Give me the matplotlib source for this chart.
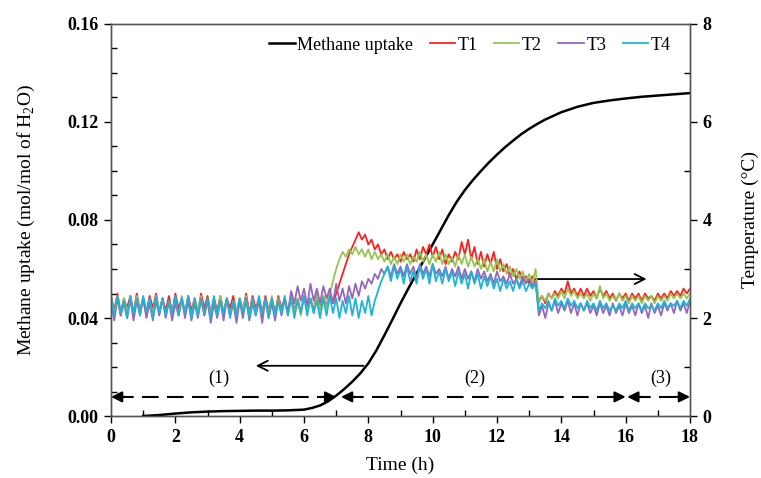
import numpy as np
import matplotlib
matplotlib.use("Agg")
import matplotlib.pyplot as plt
from matplotlib.ticker import MultipleLocator, FormatStrFormatter

plt.rcParams['font.family'] = ['Liberation Serif', 'DejaVu Serif']
plt.rcParams['mathtext.fontset'] = 'custom'
plt.rcParams['mathtext.rm'] = 'Liberation Serif'

# ---------------- data ----------------
uptake_time = [1.0, 1.5, 2.0, 2.5, 3.0, 3.5, 4.0, 4.5, 5.0, 5.5, 6.0, 6.25, 6.5, 6.75,
               7.0, 7.25, 7.5, 7.75, 8.0, 8.25, 8.5, 8.75, 9.0, 9.25, 9.5, 9.75,
               10.0, 10.25, 10.5, 10.75, 11.0, 11.25, 11.5, 11.75, 12.0, 12.25, 12.5,
               12.75, 13.0, 13.25, 13.5, 14.0, 14.5, 15.0, 15.5, 16.0, 16.5, 17.0,
               17.5, 18.0]
uptake = [0.0, 0.0004, 0.0010, 0.0015, 0.0018, 0.0020, 0.0021, 0.0022, 0.0022, 0.0023,
          0.0026, 0.0033, 0.0043, 0.0060, 0.0083, 0.0110, 0.0140, 0.0174, 0.0215,
          0.0268, 0.0330, 0.0394, 0.0460, 0.0522, 0.0582, 0.0642, 0.0700, 0.0760,
          0.0820, 0.0875, 0.0922, 0.0963, 0.1000, 0.1035, 0.1067, 0.1097, 0.1124,
          0.1150, 0.1172, 0.1192, 0.1210, 0.1240, 0.1262, 0.1278, 0.1288, 0.1296,
          0.1303, 0.1308, 0.1313, 0.1318]

# temperatures (deg C), sampled every 0.1 h from 0 h
T1 = [2.45,2.15,2.5,2.1,2.4,2.2,2.45,2.1,2.5,2.15,
      2.4,2.1,2.45,2.2,2.5,2.1,2.4,2.15,2.45,2.1,
      2.5,2.2,2.4,2.1,2.45,2.15,2.4,2.1,2.5,2.2,
      2.45,2.1,2.4,2.15,2.45,2.1,2.4,2.2,2.45,2.1,
      2.4,2.15,2.5,2.1,2.45,2.2,2.4,2.1,2.45,2.15,
      2.4,2.1,2.45,2.2,2.4,2.1,2.5,2.15,2.4,2.1,
      2.45,2.2,2.4,2.15,2.5,2.2,2.45,2.25,2.5,2.3,
      2.5,2.7,2.9,3.1,3.3,3.45,3.6,3.75,3.6,3.7,
      3.5,3.6,3.4,3.5,3.3,3.4,3.2,3.35,3.2,3.3,
      3.15,3.35,3.2,3.3,3.15,3.4,3.2,3.45,3.3,3.5,
      3.25,3.45,3.2,3.4,3.1,3.3,3.15,3.35,3.2,3.55,
      3.3,3.6,3.2,3.45,3.1,3.35,3.05,3.3,3.1,3.35,
      3.0,3.2,2.95,3.1,2.85,3.0,2.8,2.95,2.75,2.85,
      2.7,2.85,2.7,
      2.35,2.45,2.3,2.5,2.4,2.55,2.45,2.6,2.5,2.75,
      2.5,2.6,2.45,2.6,2.45,2.6,2.45,2.55,2.4,2.6,
      2.45,2.55,2.4,2.5,2.35,2.5,2.4,2.5,2.35,2.5,
      2.4,2.5,2.35,2.5,2.4,2.45,2.35,2.5,2.4,2.5,
      2.4,2.55,2.45,2.55,2.45,2.6,2.5,2.6]
T2 = [2.40,2.10,2.45,2.05,2.40,2.15,2.35,2.05,2.45,2.10,
      2.40,2.05,2.35,2.10,2.45,2.15,2.40,2.05,2.35,2.10,
      2.40,2.05,2.45,2.10,2.35,2.05,2.40,2.15,2.45,2.05,
      2.35,2.10,2.40,2.05,2.45,2.10,2.40,2.05,2.35,2.10,
      2.40,2.15,2.45,2.05,2.40,2.10,2.35,2.05,2.40,2.10,
      2.45,2.05,2.40,2.15,2.35,2.05,2.45,2.10,2.40,2.05,
      2.45,2.15,2.40,2.10,2.50,2.15,2.45,2.20,
      2.5,2.75,3.0,3.2,3.35,3.25,3.4,3.3,3.45,3.3,
      3.4,3.25,3.4,3.2,3.35,3.2,3.3,3.15,3.3,3.1,
      3.25,3.1,3.3,3.15,3.3,3.1,3.25,3.15,3.35,3.15,
      3.3,3.1,3.3,3.15,3.35,3.1,3.3,3.1,3.25,3.05,
      3.3,3.1,3.3,3.05,3.25,3.05,3.2,3.0,3.2,2.95,
      3.15,2.95,3.2,2.95,3.1,2.9,3.05,2.85,3.0,2.8,
      2.95,2.75,2.9,2.7,3.0,
      2.3,2.45,2.35,2.5,2.4,2.5,2.4,2.55,2.4,2.6,
      2.45,2.55,2.4,2.5,2.4,2.5,2.35,2.5,2.4,2.65,
      2.4,2.5,2.35,2.45,2.35,2.5,2.35,2.45,2.3,2.45,
      2.35,2.45,2.3,2.45,2.35,2.45,2.3,2.45,2.35,2.45,
      2.35,2.5,2.4,2.5,2.4,2.5,2.4,2.5]
T3 = [2.35,1.95,2.40,2.05,2.30,2.00,2.40,1.95,2.35,2.05,
      2.40,2.00,2.30,1.95,2.35,2.05,2.40,2.00,2.35,1.95,
      2.30,2.05,2.40,2.00,2.35,1.95,2.30,2.00,2.40,2.05,
      2.35,1.90,2.30,2.00,2.35,1.95,2.40,2.05,2.30,1.90,
      2.35,2.00,2.40,1.95,2.30,2.05,2.35,1.90,2.40,2.00,
      2.30,1.95,2.35,2.05,2.40,2.10,
      2.55,2.3,2.65,2.35,2.6,2.25,2.7,2.35,2.6,2.3,
      2.65,2.4,2.6,2.3,2.7,2.35,2.6,2.3,2.65,2.4,
      2.7,2.45,2.75,
      2.6,2.8,2.7,2.9,2.8,3.0,2.9,
      3.05,2.85,3.1,2.9,3.05,2.85,3.1,2.9,3.05,2.8,
      3.1,2.9,3.05,2.85,3.1,2.9,3.0,2.85,3.05,2.8,
      3.0,2.85,3.05,2.8,3.0,2.8,2.95,2.75,3.0,2.8,
      2.95,2.75,2.9,2.7,2.95,2.75,2.85,2.7,2.9,2.7,
      2.8,2.65,2.85,2.7,2.8,2.65,2.75,
      2.05,2.25,2.0,2.3,2.15,2.35,2.1,2.3,2.15,2.35,
      2.1,2.3,2.05,2.3,2.15,2.3,2.1,2.25,2.05,2.3,
      2.1,2.25,2.05,2.3,2.1,2.25,2.05,2.3,2.1,2.25,
      2.05,2.3,2.1,2.25,2.0,2.3,2.1,2.25,2.05,2.3,
      2.15,2.3,2.1,2.35,2.15,2.3,2.1,2.35]
T4 = [2.40,2.05,2.45,2.10,2.35,2.00,2.45,2.10,2.40,2.05,
      2.45,2.15,2.40,2.00,2.45,2.10,2.40,2.05,2.35,2.10,
      2.45,2.05,2.40,2.10,2.45,2.00,2.40,2.05,2.35,2.10,
      2.40,2.00,2.45,2.05,2.35,2.10,2.40,2.00,2.35,2.05,
      2.40,2.10,2.35,2.00,2.40,2.05,2.45,2.10,2.35,2.00,
      2.40,2.05,2.35,2.10,2.45,2.05,2.40,2.00,2.35,2.10,
      2.45,2.05,2.40,2.10,2.35,2.00,2.40,2.05,2.45,2.10,
      2.40,2.00,2.35,2.10,2.45,2.05,2.40,2.00,2.35,2.10,
      2.45,2.05,
      2.35,2.55,2.75,2.9,3.05,
      2.75,3.05,2.8,3.0,2.7,3.05,2.75,2.95,2.7,3.05,
      2.8,3.0,2.7,3.1,2.75,2.95,2.7,3.0,2.75,2.95,
      2.65,2.95,2.7,2.9,2.6,2.95,2.7,2.9,2.6,2.85,
      2.65,2.85,2.6,2.8,2.55,2.8,2.6,2.75,2.55,2.8,
      2.6,2.75,2.55,2.7,2.6,2.7,
      2.15,2.3,2.2,2.35,2.15,2.4,2.25,2.35,2.2,2.4,
      2.25,2.35,2.2,2.3,2.15,2.35,2.2,2.3,2.15,2.35,
      2.2,2.3,2.15,2.25,2.15,2.3,2.2,2.35,2.15,2.3,
      2.2,2.3,2.15,2.3,2.2,2.25,2.15,2.3,2.2,2.35,
      2.2,2.3,2.25,2.35,2.2,2.35,2.25,2.4]

temp_series = [("T1", T1, "#ff1f1f"), ("T2", T2, "#92c84e"),
               ("T3", T3, "#9467bd"), ("T4", T4, "#1fb4d6")]

# stage boundaries (h)
stages = [(0.0, 7.0, "(1)"), (7.15, 16.0, "(2)"), (16.05, 18.0, "(3)")]
stage_label_x = [3.35, 11.3, 17.1]

# ---------------- figure ----------------
fig = plt.figure(figsize=(7.61, 4.78), dpi=100)
ax = fig.add_axes([0.1459, 0.1297, 0.7608, 0.8201])
ax2 = ax.twinx()

ax.plot(uptake_time, uptake, color="black", lw=1.8, zorder=3)

handles = []
h0, = ax2.plot([], [], color="black", lw=1.8, label="Methane uptake")
handles.append(h0)
for name, vals, col in temp_series:
    t = np.arange(len(vals)) * 0.1
    h, = ax2.plot(t, vals, color=col, lw=1.3, label=name)
    handles.append(h)

ax.set_xlim(0, 18)
ax.set_ylim(0, 0.16)
ax2.set_ylim(0, 8)

ax.xaxis.set_major_locator(MultipleLocator(2))
ax.xaxis.set_minor_locator(MultipleLocator(1))
ax.yaxis.set_major_locator(MultipleLocator(0.04))
ax.yaxis.set_minor_locator(MultipleLocator(0.01))
ax.yaxis.set_major_formatter(FormatStrFormatter("%.2f"))
ax2.yaxis.set_major_locator(MultipleLocator(2))
ax2.yaxis.set_minor_locator(MultipleLocator(1))

for a in (ax, ax2):
    a.tick_params(which="major", direction="out", length=5, width=1, labelsize=13)
    a.tick_params(which="minor", direction="in", length=4, width=1)
    for lab in a.get_xticklabels() + a.get_yticklabels():
        lab.set_fontweight("bold")
    for sp in a.spines.values():
        sp.set_color("#555555")
        sp.set_linewidth(1.0)
ax.tick_params(axis="x", which="major", pad=4)
ax.tick_params(axis="y", which="major", pad=4)
ax2.tick_params(axis="y", which="major", pad=4)

ax.set_xlabel("Time (h)", fontsize=14, labelpad=8)
ax.set_ylabel("Methane uptake (mol/mol of H$_2$O)", fontsize=14, labelpad=22)
ax2.set_ylabel("Temperature (°C)", fontsize=14, labelpad=22)

# stage arrows
ys = 0.0078
for (a0, a1, lab), lx in zip(stages, stage_label_x):
    ax.plot([a0 + 0.2, a1 - 0.2], [ys, ys], color="black", lw=1.5,
            dashes=(8, 4), zorder=4, clip_on=False)
    ax.annotate("", xy=(a0, ys), xytext=(a0 + 0.45, ys),
                arrowprops=dict(arrowstyle="-|>", color="black", lw=1.5,
                                mutation_scale=16, shrinkA=0, shrinkB=0),
                annotation_clip=False, zorder=5)
    ax.annotate("", xy=(a1, ys), xytext=(a1 - 0.45, ys),
                arrowprops=dict(arrowstyle="-|>", color="black", lw=1.5,
                                mutation_scale=16, shrinkA=0, shrinkB=0),
                annotation_clip=False, zorder=5)
    ax.text(lx, 0.0155, lab, ha="center", va="center", fontsize=13)

# axis-indicating arrows
ax.annotate("", xy=(4.5, 0.0205), xytext=(7.85, 0.0205),
            arrowprops=dict(arrowstyle="->", color="black", lw=1.3,
                            mutation_scale=18, shrinkA=0, shrinkB=0))
ax.annotate("", xy=(16.65, 0.0559), xytext=(13.2, 0.0559),
            arrowprops=dict(arrowstyle="->", color="black", lw=1.3,
                            mutation_scale=18, shrinkA=0, shrinkB=0))

ax2.legend(handles=handles, loc="center", bbox_to_anchor=(0.62, 0.946),
           ncol=5, frameon=False, fontsize=13, handlelength=1.4,
           handletextpad=0.15, columnspacing=0.9, borderaxespad=0)

fig.savefig("out.png", dpi=100)
